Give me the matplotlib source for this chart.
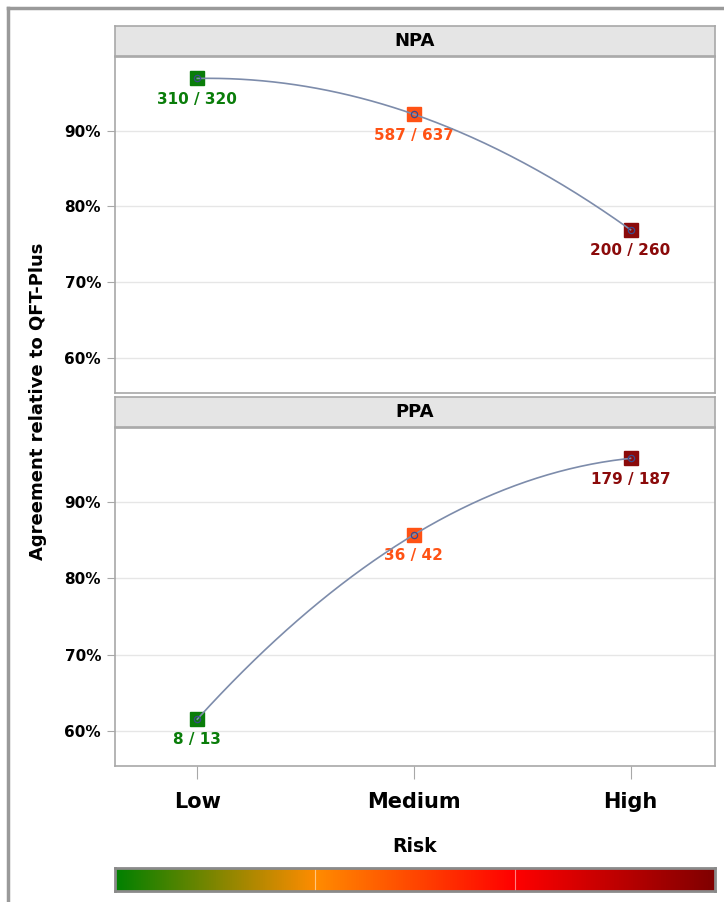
import matplotlib
matplotlib.use("Agg")
import matplotlib.pyplot as plt
import numpy as np
from matplotlib.colors import LinearSegmentedColormap
from matplotlib.lines import Line2D

plt.rcParams['font.family'] = ['DejaVu Sans']

# data
risk_levels = ["Low", "Medium", "High"]
risk_colors = ["#0a7d0a", "#ff5214", "#8b0a0a"]
panels = ["NPA", "PPA"]
npa_num = [310, 587, 200]
npa_den = [320, 637, 260]
ppa_num = [8, 36, 179]
ppa_den = [13, 42, 187]
y_ticks = [60, 70, 80, 90]
bar_colors = ["#008000", "#ff8c00", "#ff0000", "#800000"]

W, H = 724, 902
fig = plt.figure(figsize=(W / 100, H / 100), dpi=100)

def fx(px): return px / W
def fy(px): return 1 - px / H

# figure frame (left + top)
fig.add_artist(Line2D([fx(8), fx(8)], [0, fy(8)], color="#9a9a9a", lw=2.5))
fig.add_artist(Line2D([fx(8), 1], [fy(8), fy(8)], color="#9a9a9a", lw=2.5))

x = np.arange(len(risk_levels))
layout = [
    (57, 393, 26, 56, npa_num, npa_den),
    (428, 766, 397, 427, ppa_num, ppa_den),
]
left, right = 115, 715
axes = []
for i, (t, b, st, sb, num, den) in enumerate(layout):
    ax = fig.add_axes([fx(left), fy(b), fx(right) - fx(left), fy(t) - fy(b)])
    pct = [100 * n / d for n, d in zip(num, den)]
    # smooth curve through the three points
    coef = np.polyfit(x, pct, 2)
    xs = np.linspace(x[0], x[-1], 200)
    ax.plot(xs, np.polyval(coef, xs), color="#7d8cab", lw=1.2, zorder=4)
    for xi, p, n, d, c in zip(x, pct, num, den, risk_colors):
        ax.plot(xi, p, marker="s", ms=10, mfc=c, mec=c, zorder=3)
        ax.plot(xi, p, marker="o", ms=4.5, mfc="none", mec="#3b4a8c", mew=0.9, zorder=5)
        ax.annotate(f"{n} / {d}", (xi, p), xytext=(0, -15), textcoords="offset points",
                    ha="center", va="center", color=c, fontsize=11, fontweight="bold")
    ax.set_xlim(-0.38, 2.39)
    ax.set_ylim(55.4, 99.7)
    ax.set_yticks(y_ticks)
    ax.set_yticklabels([f"{v}%" for v in y_ticks], fontsize=11, fontweight="bold")
    ax.grid(axis="y", color="#e6e6e6", lw=1)
    ax.set_axisbelow(True)
    for s in ax.spines.values():
        s.set_color("#a8a8a8")
        s.set_linewidth(1.2)
    ax.tick_params(axis="y", length=6, color="#a8a8a8", pad=4)
    if i == 0:
        ax.set_xticks([])
    else:
        ax.set_xticks(x)
        ax.set_xticklabels(risk_levels, fontsize=15, fontweight="bold")
        ax.tick_params(axis="x", length=9, color="#a8a8a8", pad=10)
    # strip header
    sax = fig.add_axes([fx(left), fy(sb), fx(right) - fx(left), fy(st) - fy(sb)])
    sax.set_facecolor("#e5e5e5")
    sax.set_xticks([]); sax.set_yticks([])
    for s in sax.spines.values():
        s.set_color("#a8a8a8")
        s.set_linewidth(1.2)
    sax.text(0.5, 0.5, panels[i], ha="center", va="center", fontsize=13,
             fontweight="bold", transform=sax.transAxes)
    axes.append(ax)

fig.text(fx(38), fy(401), "Agreement relative to QFT-Plus",
         rotation=90, ha="center", va="center", fontsize=13, fontweight="bold")
fig.text((fx(left) + fx(right)) / 2, fy(846), "Risk", ha="center", va="center",
         fontsize=13.5, fontweight="bold")

# colour bar
cmap = LinearSegmentedColormap.from_list("risk", bar_colors)
cax = fig.add_axes([fx(left), fy(891), fx(right) - fx(left), fy(868) - fy(891)])
cax.imshow(np.linspace(0, 1, 512)[None, :], aspect="auto", cmap=cmap, extent=[0, 1, 0, 1])
for v in (1 / 3, 2 / 3):
    cax.axvline(v, color="white", lw=0.8, alpha=0.5)
cax.set_xticks([]); cax.set_yticks([])
for s in cax.spines.values():
    s.set_color("#8a8a8a")
    s.set_linewidth(2)

fig.savefig("out.png", dpi=100)
